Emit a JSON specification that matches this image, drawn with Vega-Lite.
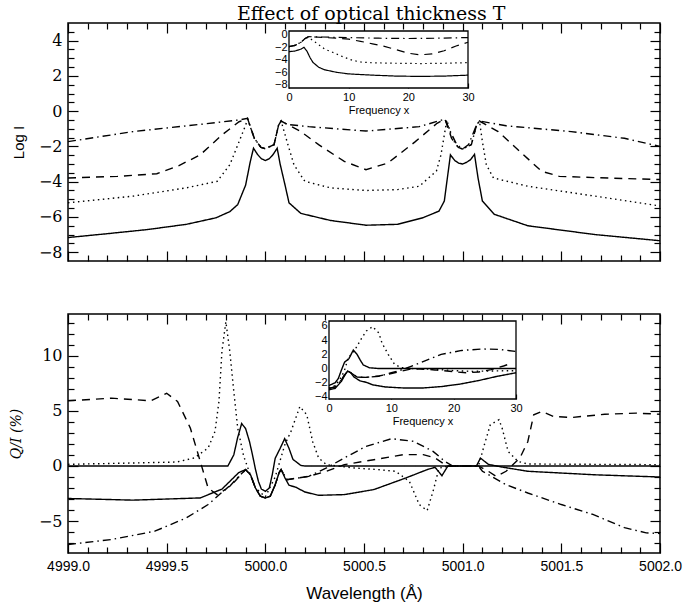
{
  "$schema": "https://vega.github.io/schema/vega-lite/v6.json",
  "padding": {"left": 8, "top": 4, "right": 4, "bottom": 4},
  "background": "white",
  "title": {"text": "Effect of optical thickness T", "font": "DejaVu Serif", "fontSize": 19, "fontWeight": "normal", "anchor": "middle", "offset": -2, "color": "black", "dx": 26},
  "config": {
    "view": {"stroke": "black", "strokeWidth": 1.5},
    "axis": {"grid": false, "domain": false, "tickColor": "black", "labelColor": "black", "titleColor": "black", "tickWidth": 1.2, "titleFontWeight": "normal", "labelOverlap": false},
    "line": {"clip": true}
  },
  "datasets": {
    "top": [
      {"s":"solid","w":4999.00,"v":-7.17},{"s":"solid","w":4999.20,"v":-6.95},{"s":"solid","w":4999.40,"v":-6.72},{"s":"solid","w":4999.60,"v":-6.42},{"s":"solid","w":4999.75,"v":-6.05},{"s":"solid","w":4999.82,"v":-5.70},{"s":"solid","w":4999.86,"v":-5.30},{"s":"solid","w":4999.90,"v":-4.20},{"s":"solid","w":4999.924,"v":-2.85},{"s":"solid","w":4999.94,"v":-2.10},{"s":"solid","w":4999.96,"v":-2.45},{"s":"solid","w":4999.98,"v":-2.70},{"s":"solid","w":5000.00,"v":-2.80},{"s":"solid","w":5000.02,"v":-2.70},{"s":"solid","w":5000.04,"v":-2.45},{"s":"solid","w":5000.06,"v":-2.10},{"s":"solid","w":5000.075,"v":-3.00},{"s":"solid","w":5000.10,"v":-4.20},{"s":"solid","w":5000.12,"v":-5.20},{"s":"solid","w":5000.18,"v":-5.80},{"s":"solid","w":5000.33,"v":-6.20},{"s":"solid","w":5000.51,"v":-6.47},{"s":"solid","w":5000.67,"v":-6.42},{"s":"solid","w":5000.80,"v":-6.04},{"s":"solid","w":5000.88,"v":-5.67},{"s":"solid","w":5000.907,"v":-5.10},{"s":"solid","w":5000.92,"v":-4.00},{"s":"solid","w":5000.938,"v":-2.48},{"s":"solid","w":5000.96,"v":-2.80},{"s":"solid","w":5000.98,"v":-2.95},{"s":"solid","w":5001.00,"v":-3.00},{"s":"solid","w":5001.02,"v":-2.90},{"s":"solid","w":5001.04,"v":-2.75},{"s":"solid","w":5001.06,"v":-2.45},{"s":"solid","w":5001.078,"v":-3.80},{"s":"solid","w":5001.10,"v":-5.10},{"s":"solid","w":5001.16,"v":-5.85},{"s":"solid","w":5001.33,"v":-6.50},{"s":"solid","w":5001.67,"v":-7.00},{"s":"solid","w":5002.00,"v":-7.35},
      {"s":"dotted","w":4999.00,"v":-5.20},{"s":"dotted","w":4999.33,"v":-4.82},{"s":"dotted","w":4999.60,"v":-4.35},{"s":"dotted","w":4999.756,"v":-3.98},{"s":"dotted","w":4999.82,"v":-3.04},{"s":"dotted","w":4999.867,"v":-1.73},{"s":"dotted","w":4999.90,"v":-0.80},{"s":"dotted","w":4999.91,"v":-0.45},{"s":"dotted","w":4999.944,"v":-1.54},{"s":"dotted","w":4999.978,"v":-2.06},{"s":"dotted","w":5000.00,"v":-2.12},{"s":"dotted","w":5000.044,"v":-1.90},{"s":"dotted","w":5000.067,"v":-0.80},{"s":"dotted","w":5000.08,"v":-0.56},{"s":"dotted","w":5000.11,"v":-1.73},{"s":"dotted","w":5000.145,"v":-3.04},{"s":"dotted","w":5000.20,"v":-3.98},{"s":"dotted","w":5000.33,"v":-4.35},{"s":"dotted","w":5000.51,"v":-4.50},{"s":"dotted","w":5000.67,"v":-4.45},{"s":"dotted","w":5000.78,"v":-4.26},{"s":"dotted","w":5000.867,"v":-3.40},{"s":"dotted","w":5000.89,"v":-2.48},{"s":"dotted","w":5000.907,"v":-1.35},{"s":"dotted","w":5000.92,"v":-0.50},{"s":"dotted","w":5000.945,"v":-1.54},{"s":"dotted","w":5000.978,"v":-2.06},{"s":"dotted","w":5001.00,"v":-2.15},{"s":"dotted","w":5001.044,"v":-1.90},{"s":"dotted","w":5001.07,"v":-0.80},{"s":"dotted","w":5001.085,"v":-0.56},{"s":"dotted","w":5001.10,"v":-1.73},{"s":"dotted","w":5001.12,"v":-3.04},{"s":"dotted","w":5001.156,"v":-3.79},{"s":"dotted","w":5001.33,"v":-4.26},{"s":"dotted","w":5001.67,"v":-4.82},{"s":"dotted","w":5002.00,"v":-5.38},
      {"s":"dashed","w":4999.00,"v":-3.79},{"s":"dashed","w":4999.25,"v":-3.70},{"s":"dashed","w":4999.45,"v":-3.55},{"s":"dashed","w":4999.56,"v":-3.10},{"s":"dashed","w":4999.67,"v":-2.48},{"s":"dashed","w":4999.78,"v":-1.35},{"s":"dashed","w":4999.867,"v":-0.60},{"s":"dashed","w":4999.91,"v":-0.42},{"s":"dashed","w":4999.944,"v":-1.54},{"s":"dashed","w":4999.978,"v":-2.06},{"s":"dashed","w":5000.00,"v":-2.12},{"s":"dashed","w":5000.044,"v":-1.90},{"s":"dashed","w":5000.067,"v":-0.80},{"s":"dashed","w":5000.08,"v":-0.56},{"s":"dashed","w":5000.18,"v":-1.16},{"s":"dashed","w":5000.27,"v":-1.90},{"s":"dashed","w":5000.40,"v":-2.85},{"s":"dashed","w":5000.51,"v":-3.32},{"s":"dashed","w":5000.62,"v":-2.95},{"s":"dashed","w":5000.76,"v":-1.73},{"s":"dashed","w":5000.87,"v":-0.69},{"s":"dashed","w":5000.91,"v":-0.45},{"s":"dashed","w":5000.944,"v":-1.54},{"s":"dashed","w":5000.978,"v":-2.06},{"s":"dashed","w":5001.00,"v":-2.15},{"s":"dashed","w":5001.044,"v":-1.90},{"s":"dashed","w":5001.07,"v":-0.80},{"s":"dashed","w":5001.085,"v":-0.56},{"s":"dashed","w":5001.18,"v":-1.16},{"s":"dashed","w":5001.29,"v":-2.29},{"s":"dashed","w":5001.40,"v":-3.41},{"s":"dashed","w":5001.49,"v":-3.70},{"s":"dashed","w":5001.75,"v":-3.80},{"s":"dashed","w":5002.00,"v":-3.88},
      {"s":"dashdot","w":4999.00,"v":-1.73},{"s":"dashdot","w":4999.33,"v":-1.16},{"s":"dashdot","w":4999.67,"v":-0.75},{"s":"dashdot","w":4999.867,"v":-0.50},{"s":"dashdot","w":4999.91,"v":-0.41},{"s":"dashdot","w":4999.944,"v":-1.54},{"s":"dashdot","w":4999.978,"v":-2.06},{"s":"dashdot","w":5000.00,"v":-2.14},{"s":"dashdot","w":5000.044,"v":-1.90},{"s":"dashdot","w":5000.067,"v":-0.80},{"s":"dashdot","w":5000.08,"v":-0.56},{"s":"dashdot","w":5000.11,"v":-0.75},{"s":"dashdot","w":5000.22,"v":-0.88},{"s":"dashdot","w":5000.51,"v":-1.13},{"s":"dashdot","w":5000.78,"v":-0.88},{"s":"dashdot","w":5000.91,"v":-0.45},{"s":"dashdot","w":5000.938,"v":-1.16},{"s":"dashdot","w":5000.97,"v":-1.90},{"s":"dashdot","w":5001.00,"v":-2.14},{"s":"dashdot","w":5001.03,"v":-1.90},{"s":"dashdot","w":5001.07,"v":-0.80},{"s":"dashdot","w":5001.085,"v":-0.56},{"s":"dashdot","w":5001.22,"v":-0.83},{"s":"dashdot","w":5001.55,"v":-1.16},{"s":"dashdot","w":5001.82,"v":-1.54},{"s":"dashdot","w":5002.00,"v":-2.00}
    ],
    "topInset": [
      {"s":"solid","f":0,"v":-2.7},{"s":"solid","f":1,"v":-2.6},{"s":"solid","f":2,"v":-2.3},{"s":"solid","f":2.5,"v":-2.0},{"s":"solid","f":3,"v":-2.6},{"s":"solid","f":3.5,"v":-3.6},{"s":"solid","f":4,"v":-4.4},{"s":"solid","f":5,"v":-5.2},{"s":"solid","f":6,"v":-5.6},{"s":"solid","f":8,"v":-6.0},{"s":"solid","f":10,"v":-6.25},{"s":"solid","f":14,"v":-6.45},{"s":"solid","f":18,"v":-6.6},{"s":"solid","f":22,"v":-6.65},{"s":"solid","f":26,"v":-6.6},{"s":"solid","f":30,"v":-6.45},
      {"s":"dotted","f":0,"v":-1.9},{"s":"dotted","f":1,"v":-1.7},{"s":"dotted","f":2,"v":-1.2},{"s":"dotted","f":2.7,"v":-0.6},{"s":"dotted","f":3.2,"v":-0.4},{"s":"dotted","f":4,"v":-0.9},{"s":"dotted","f":5,"v":-1.6},{"s":"dotted","f":6,"v":-2.3},{"s":"dotted","f":7.3,"v":-2.8},{"s":"dotted","f":9,"v":-3.5},{"s":"dotted","f":10.7,"v":-4.1},{"s":"dotted","f":12,"v":-4.35},{"s":"dotted","f":14,"v":-4.48},{"s":"dotted","f":18,"v":-4.55},{"s":"dotted","f":22,"v":-4.6},{"s":"dotted","f":26,"v":-4.55},{"s":"dotted","f":30,"v":-4.45},
      {"s":"dashed","f":0,"v":-1.9},{"s":"dashed","f":1,"v":-1.7},{"s":"dashed","f":2,"v":-1.2},{"s":"dashed","f":2.7,"v":-0.6},{"s":"dashed","f":3.3,"v":-0.3},{"s":"dashed","f":4,"v":-0.35},{"s":"dashed","f":6,"v":-0.45},{"s":"dashed","f":8,"v":-0.55},{"s":"dashed","f":10,"v":-0.7},{"s":"dashed","f":12,"v":-1.05},{"s":"dashed","f":14,"v":-1.45},{"s":"dashed","f":16,"v":-1.85},{"s":"dashed","f":18,"v":-2.4},{"s":"dashed","f":20,"v":-2.95},{"s":"dashed","f":22,"v":-3.2},{"s":"dashed","f":24,"v":-3.05},{"s":"dashed","f":26,"v":-2.55},{"s":"dashed","f":28,"v":-1.8},{"s":"dashed","f":30,"v":-1.2},
      {"s":"dashdot","f":0,"v":-1.9},{"s":"dashdot","f":1,"v":-1.7},{"s":"dashdot","f":2,"v":-1.2},{"s":"dashdot","f":2.7,"v":-0.6},{"s":"dashdot","f":3.3,"v":-0.3},{"s":"dashdot","f":5,"v":-0.35},{"s":"dashdot","f":10,"v":-0.45},{"s":"dashdot","f":15,"v":-0.55},{"s":"dashdot","f":20,"v":-0.6},{"s":"dashdot","f":25,"v":-0.55},{"s":"dashdot","f":30,"v":-0.45}
    ],
    "bot": [
      {"s":"A","w":4999.00,"v":0},{"s":"A","w":4999.81,"v":0},{"s":"A","w":4999.84,"v":1.0},{"s":"A","w":4999.86,"v":2.6},{"s":"A","w":4999.88,"v":3.85},{"s":"A","w":4999.90,"v":3.4},{"s":"A","w":4999.92,"v":2.2},{"s":"A","w":4999.935,"v":1.0},{"s":"A","w":4999.95,"v":-0.3},{"s":"A","w":4999.965,"v":-1.4},{"s":"A","w":4999.98,"v":-2.1},{"s":"A","w":5000.00,"v":-2.3},{"s":"A","w":5000.02,"v":-2.0},{"s":"A","w":5000.035,"v":-0.8},{"s":"A","w":5000.05,"v":0.7},{"s":"A","w":5000.075,"v":1.6},{"s":"A","w":5000.098,"v":2.48},{"s":"A","w":5000.12,"v":1.6},{"s":"A","w":5000.14,"v":0.6},{"s":"A","w":5000.18,"v":0.05},{"s":"A","w":5000.20,"v":0},{"s":"A","w":5002.00,"v":0},
      {"s":"B","w":4999.00,"v":-2.95},{"s":"B","w":4999.33,"v":-3.10},{"s":"B","w":4999.67,"v":-2.90},{"s":"B","w":4999.78,"v":-2.10},{"s":"B","w":4999.82,"v":-1.40},{"s":"B","w":4999.865,"v":-0.60},{"s":"B","w":4999.90,"v":-0.33},{"s":"B","w":4999.925,"v":-0.80},{"s":"B","w":4999.95,"v":-2.00},{"s":"B","w":4999.975,"v":-2.75},{"s":"B","w":5000.00,"v":-2.90},{"s":"B","w":5000.025,"v":-2.75},{"s":"B","w":5000.05,"v":-1.70},{"s":"B","w":5000.07,"v":-0.60},{"s":"B","w":5000.08,"v":-0.33},{"s":"B","w":5000.10,"v":-1.10},{"s":"B","w":5000.12,"v":-1.75},{"s":"B","w":5000.155,"v":-1.93},{"s":"B","w":5000.20,"v":-2.36},{"s":"B","w":5000.27,"v":-2.66},{"s":"B","w":5000.40,"v":-2.60},{"s":"B","w":5000.55,"v":-2.14},{"s":"B","w":5000.71,"v":-1.10},{"s":"B","w":5000.82,"v":-0.33},{"s":"B","w":5000.86,"v":-0.12},{"s":"B","w":5000.895,"v":-0.88},{"s":"B","w":5000.925,"v":0},{"s":"B","w":5001.07,"v":0},{"s":"B","w":5001.09,"v":0.72},{"s":"B","w":5001.13,"v":0.15},{"s":"B","w":5001.20,"v":-0.10},{"s":"B","w":5001.33,"v":-0.48},{"s":"B","w":5001.67,"v":-0.80},{"s":"B","w":5002.00,"v":-1.00},
      {"s":"dotted","w":4999.00,"v":0.15},{"s":"dotted","w":4999.40,"v":0.30},{"s":"dotted","w":4999.55,"v":0.36},{"s":"dotted","w":4999.64,"v":0.73},{"s":"dotted","w":4999.71,"v":1.63},{"s":"dotted","w":4999.745,"v":3.14},{"s":"dotted","w":4999.765,"v":5.86},{"s":"dotted","w":4999.78,"v":10.4},{"s":"dotted","w":4999.80,"v":13.1},{"s":"dotted","w":4999.82,"v":10.4},{"s":"dotted","w":4999.84,"v":6.8},{"s":"dotted","w":4999.86,"v":3.44},{"s":"dotted","w":4999.89,"v":0.9},{"s":"dotted","w":4999.92,"v":-0.6},{"s":"dotted","w":4999.95,"v":-2.0},{"s":"dotted","w":5000.00,"v":-2.8},{"s":"dotted","w":5000.05,"v":-1.0},{"s":"dotted","w":5000.08,"v":0.8},{"s":"dotted","w":5000.10,"v":2.0},{"s":"dotted","w":5000.13,"v":3.14},{"s":"dotted","w":5000.175,"v":5.4},{"s":"dotted","w":5000.21,"v":4.65},{"s":"dotted","w":5000.24,"v":2.2},{"s":"dotted","w":5000.27,"v":0.73},{"s":"dotted","w":5000.31,"v":0.12},{"s":"dotted","w":5000.45,"v":-0.18},{"s":"dotted","w":5000.57,"v":-0.33},{"s":"dotted","w":5000.66,"v":-0.48},{"s":"dotted","w":5000.73,"v":-1.4},{"s":"dotted","w":5000.78,"v":-3.5},{"s":"dotted","w":5000.82,"v":-4.05},{"s":"dotted","w":5000.85,"v":-2.3},{"s":"dotted","w":5000.88,"v":-0.2},{"s":"dotted","w":5000.93,"v":0},{"s":"dotted","w":5001.08,"v":0},{"s":"dotted","w":5001.11,"v":1.93},{"s":"dotted","w":5001.14,"v":3.75},{"s":"dotted","w":5001.184,"v":4.2},{"s":"dotted","w":5001.20,"v":3.44},{"s":"dotted","w":5001.23,"v":1.33},{"s":"dotted","w":5001.28,"v":0.42},{"s":"dotted","w":5001.33,"v":0.18},{"s":"dotted","w":5002.00,"v":0.12},
      {"s":"dashed","w":4999.00,"v":5.92},{"s":"dashed","w":4999.22,"v":6.16},{"s":"dashed","w":4999.42,"v":5.92},{"s":"dashed","w":4999.50,"v":6.60},{"s":"dashed","w":4999.555,"v":5.86},{"s":"dashed","w":4999.62,"v":3.44},{"s":"dashed","w":4999.665,"v":0.73},{"s":"dashed","w":4999.71,"v":-2.00},{"s":"dashed","w":4999.755,"v":-2.60},{"s":"dashed","w":4999.80,"v":-2.10},{"s":"dashed","w":4999.845,"v":-1.40},{"s":"dashed","w":4999.90,"v":-0.33},{"s":"dashed","w":4999.925,"v":-0.80},{"s":"dashed","w":4999.95,"v":-2.00},{"s":"dashed","w":4999.975,"v":-2.75},{"s":"dashed","w":5000.00,"v":-2.90},{"s":"dashed","w":5000.025,"v":-2.75},{"s":"dashed","w":5000.05,"v":-1.70},{"s":"dashed","w":5000.07,"v":-0.60},{"s":"dashed","w":5000.08,"v":-0.33},{"s":"dashed","w":5000.11,"v":-1.24},{"s":"dashed","w":5000.22,"v":-0.94},{"s":"dashed","w":5000.31,"v":-0.48},{"s":"dashed","w":5000.40,"v":0.12},{"s":"dashed","w":5000.55,"v":0.57},{"s":"dashed","w":5000.70,"v":1.03},{"s":"dashed","w":5000.80,"v":1.03},{"s":"dashed","w":5000.86,"v":0.73},{"s":"dashed","w":5000.91,"v":0.12},{"s":"dashed","w":5000.93,"v":0},{"s":"dashed","w":5001.08,"v":0},{"s":"dashed","w":5001.13,"v":-0.48},{"s":"dashed","w":5001.17,"v":-0.94},{"s":"dashed","w":5001.22,"v":-0.48},{"s":"dashed","w":5001.29,"v":0.73},{"s":"dashed","w":5001.33,"v":2.20},{"s":"dashed","w":5001.36,"v":4.65},{"s":"dashed","w":5001.40,"v":4.95},{"s":"dashed","w":5001.46,"v":4.50},{"s":"dashed","w":5001.55,"v":4.40},{"s":"dashed","w":5001.72,"v":4.70},{"s":"dashed","w":5001.88,"v":4.80},{"s":"dashed","w":5002.00,"v":4.70},
      {"s":"dashdot","w":4999.00,"v":-7.13},{"s":"dashdot","w":4999.22,"v":-6.68},{"s":"dashdot","w":4999.44,"v":-5.92},{"s":"dashdot","w":4999.60,"v":-4.71},{"s":"dashdot","w":4999.71,"v":-3.50},{"s":"dashdot","w":4999.776,"v":-2.45},{"s":"dashdot","w":4999.82,"v":-1.84},{"s":"dashdot","w":4999.865,"v":-0.94},{"s":"dashdot","w":4999.90,"v":-0.33},{"s":"dashdot","w":4999.925,"v":-0.80},{"s":"dashdot","w":4999.95,"v":-2.00},{"s":"dashdot","w":4999.975,"v":-2.75},{"s":"dashdot","w":5000.00,"v":-2.90},{"s":"dashdot","w":5000.025,"v":-2.75},{"s":"dashdot","w":5000.05,"v":-1.70},{"s":"dashdot","w":5000.07,"v":-0.60},{"s":"dashdot","w":5000.08,"v":-0.33},{"s":"dashdot","w":5000.11,"v":-1.24},{"s":"dashdot","w":5000.22,"v":-0.94},{"s":"dashdot","w":5000.31,"v":-0.18},{"s":"dashdot","w":5000.40,"v":0.73},{"s":"dashdot","w":5000.51,"v":1.78},{"s":"dashdot","w":5000.64,"v":2.48},{"s":"dashdot","w":5000.75,"v":2.24},{"s":"dashdot","w":5000.85,"v":1.33},{"s":"dashdot","w":5000.91,"v":0.42},{"s":"dashdot","w":5000.95,"v":0},{"s":"dashdot","w":5001.08,"v":0},{"s":"dashdot","w":5001.10,"v":-0.48},{"s":"dashdot","w":5001.22,"v":-1.70},{"s":"dashdot","w":5001.33,"v":-2.45},{"s":"dashdot","w":5001.50,"v":-3.50},{"s":"dashdot","w":5001.66,"v":-4.40},{"s":"dashdot","w":5001.82,"v":-5.60},{"s":"dashdot","w":5001.93,"v":-6.07},{"s":"dashdot","w":5002.00,"v":-6.13}
    ],
    "botInset": [
      {"s":"A","f":0,"v":-2.4},{"s":"A","f":1,"v":-2.0},{"s":"A","f":1.5,"v":-1.4},{"s":"A","f":2,"v":-0.2},{"s":"A","f":2.5,"v":0.9},{"s":"A","f":3.2,"v":1.4},{"s":"A","f":3.9,"v":2.6},{"s":"A","f":4.5,"v":2.0},{"s":"A","f":5,"v":1.2},{"s":"A","f":5.5,"v":0.5},{"s":"A","f":6.5,"v":0.1},{"s":"A","f":8,"v":0},{"s":"A","f":30,"v":0},
      {"s":"B","f":0,"v":-3.0},{"s":"B","f":1,"v":-2.8},{"s":"B","f":2,"v":-1.8},{"s":"B","f":2.5,"v":-1.0},{"s":"B","f":3,"v":-0.35},{"s":"B","f":3.5,"v":-0.6},{"s":"B","f":4,"v":-1.2},{"s":"B","f":5,"v":-1.75},{"s":"B","f":6,"v":-1.95},{"s":"B","f":7,"v":-2.3},{"s":"B","f":9,"v":-2.6},{"s":"B","f":12,"v":-2.75},{"s":"B","f":15,"v":-2.75},{"s":"B","f":18,"v":-2.55},{"s":"B","f":21,"v":-2.2},{"s":"B","f":24,"v":-1.7},{"s":"B","f":27,"v":-1.1},{"s":"B","f":30,"v":-0.6},
      {"s":"dotted","f":0,"v":-2.8},{"s":"dotted","f":1,"v":-2.4},{"s":"dotted","f":2,"v":-1.2},{"s":"dotted","f":2.5,"v":-0.2},{"s":"dotted","f":3.1,"v":1.5},{"s":"dotted","f":4.2,"v":2.7},{"s":"dotted","f":5.25,"v":4.3},{"s":"dotted","f":6,"v":5.3},{"s":"dotted","f":7,"v":5.9},{"s":"dotted","f":8,"v":5.0},{"s":"dotted","f":8.5,"v":3.6},{"s":"dotted","f":9.5,"v":2.0},{"s":"dotted","f":10.5,"v":0.6},{"s":"dotted","f":11.5,"v":0.15},{"s":"dotted","f":13,"v":0.0},{"s":"dotted","f":17,"v":-0.1},{"s":"dotted","f":20,"v":-0.3},{"s":"dotted","f":23,"v":-0.4},{"s":"dotted","f":26,"v":-0.35},{"s":"dotted","f":30,"v":-0.3},
      {"s":"dashed","f":0,"v":-2.8},{"s":"dashed","f":1,"v":-2.6},{"s":"dashed","f":2,"v":-1.6},{"s":"dashed","f":2.5,"v":-0.9},{"s":"dashed","f":3,"v":-0.35},{"s":"dashed","f":3.5,"v":-0.6},{"s":"dashed","f":4.5,"v":-1.2},{"s":"dashed","f":6,"v":-1.25},{"s":"dashed","f":8,"v":-1.05},{"s":"dashed","f":10,"v":-0.7},{"s":"dashed","f":12,"v":-0.3},{"s":"dashed","f":13.5,"v":0},{"s":"dashed","f":17,"v":-0.2},{"s":"dashed","f":20,"v":-0.45},{"s":"dashed","f":22,"v":-0.6},{"s":"dashed","f":24,"v":-0.5},{"s":"dashed","f":26,"v":-0.15},{"s":"dashed","f":28,"v":0.35},{"s":"dashed","f":29.5,"v":0.8},
      {"s":"dashdot","f":0,"v":-2.8},{"s":"dashdot","f":1,"v":-2.6},{"s":"dashdot","f":2,"v":-1.6},{"s":"dashdot","f":2.5,"v":-0.9},{"s":"dashdot","f":3,"v":-0.35},{"s":"dashdot","f":3.5,"v":-0.6},{"s":"dashdot","f":4.5,"v":-1.2},{"s":"dashdot","f":6,"v":-1.25},{"s":"dashdot","f":8,"v":-1.1},{"s":"dashdot","f":10,"v":-0.6},{"s":"dashdot","f":12,"v":-0.1},{"s":"dashdot","f":14.6,"v":0.8},{"s":"dashdot","f":18,"v":2.0},{"s":"dashdot","f":21.3,"v":2.55},{"s":"dashdot","f":24.6,"v":2.75},{"s":"dashdot","f":27.3,"v":2.7},{"s":"dashdot","f":30,"v":2.4}
    ],
    "xedge": [{"w":4999,"v":0},{"w":5002,"v":0}]
  },
  "spacing": 49,
  "vconcat": [
    {
      "width": 592, "height": 238,
      "resolve": {"scale": {"x": "independent", "y": "independent"}},
      "layer": [
        {
          "data": {"name": "top"},
          "mark": {"type": "line", "clip": true},
          "encoding": {
            "x": {"field": "w", "type": "quantitative", "scale": {"domain": [4999, 5002], "nice": false, "zero": false},
              "axis": {"orient": "bottom", "title": null, "labels": false,
                "values": [4999,4999.1,4999.2,4999.3,4999.4,4999.5,4999.6,4999.7,4999.8,4999.9,5000,5000.1,5000.2,5000.3,5000.4,5000.5,5000.6,5000.7,5000.8,5000.9,5001,5001.1,5001.2,5001.3,5001.4,5001.5,5001.6,5001.7,5001.8,5001.9,5002],
                "tickSize": {"condition": {"test": "abs(datum.value*2 - round(datum.value*2)) < 0.001", "value": -10}, "value": -6}}},
            "y": {"field": "v", "type": "quantitative", "scale": {"domain": [-8.5, 5], "nice": false, "zero": false},
              "axis": {"orient": "left", "title": "Log I", "titleFont": "Liberation Sans", "titleFontSize": 15, "titleX": -50, "titleBaseline": "middle", "titleColor": "black",
                "values": [-8,-7.5,-7,-6.5,-6,-5.5,-5,-4.5,-4,-3.5,-3,-2.5,-2,-1.5,-1,-0.5,0,0.5,1,1.5,2,2.5,3,3.5,4,4.5],
                "labelExpr": "abs(datum.value/2 - round(datum.value/2)) < 0.001 ? format(datum.value, 'd') : ''",
                "labelFont": "DejaVu Serif", "labelFontSize": 16, "labelPadding": 16, "labelOverlap": false,
                "tickSize": {"condition": {"test": "abs(datum.value/2 - round(datum.value/2)) < 0.001", "value": -10}, "value": -6}}},
            "strokeDash": {"field": "s", "type": "nominal", "legend": null, "scale": {"domain": ["solid","dotted","dashed","dashdot","A","B"], "range": [[1,0],[1.5,3.5],[8,6],[8,4,1.5,4],[1,0],[1,0]]}},
            "strokeWidth": {"field": "s", "type": "nominal", "legend": null, "scale": {"domain": ["solid","dotted","dashed","dashdot","A","B"], "range": [1.4,1.4,1.4,1.6,2.2,1.1]}},
            "color": {"value": "black"}
          }
        },
        {
          "data": {"name": "xedge"},
          "mark": {"type": "line", "opacity": 0},
          "encoding": {
            "x": {"field": "w", "type": "quantitative", "scale": {"domain": [4999, 5002], "nice": false, "zero": false},
              "axis": {"orient": "top", "title": null, "labels": false,
                "values": [4999,4999.1,4999.2,4999.3,4999.4,4999.5,4999.6,4999.7,4999.8,4999.9,5000,5000.1,5000.2,5000.3,5000.4,5000.5,5000.6,5000.7,5000.8,5000.9,5001,5001.1,5001.2,5001.3,5001.4,5001.5,5001.6,5001.7,5001.8,5001.9,5002],
                "tickSize": {"condition": {"test": "abs(datum.value*2 - round(datum.value*2)) < 0.001", "value": -10}, "value": -6}}},
            "y": {"field": "v", "type": "quantitative", "scale": {"domain": [-8.5, 5], "nice": false, "zero": false},
              "axis": {"orient": "right", "title": null, "labels": false,
                "values": [-8,-7.5,-7,-6.5,-6,-5.5,-5,-4.5,-4,-3.5,-3,-2.5,-2,-1.5,-1,-0.5,0,0.5,1,1.5,2,2.5,3,3.5,4,4.5],
                "tickSize": {"condition": {"test": "abs(datum.value/2 - round(datum.value/2)) < 0.001", "value": -10}, "value": -6}}}
          }
        },
        {
          "layer": [
            {
              "data": {"values": [{"x1": 0, "x2": 30, "y1": -8.5, "y2": 0.6}]},
              "mark": {"type": "rect", "fill": "white", "stroke": "black", "strokeWidth": 1.3},
              "encoding": {
                "x": {"field": "x1", "type": "quantitative", "scale": {"domain": [0, 30], "range": [221, 400], "nice": false, "zero": false},
                  "axis": {"orient": "bottom", "offset": -173, "title": "Frequency x", "titleFont": "Liberation Sans", "titleFontSize": 11, "titlePadding": 2,
                    "values": [0,10,20,30], "format": "d",
                    "labelFont": "Liberation Sans", "labelFontSize": 11, "labelPadding": 8, "labelFlush": false, "labelOverlap": false, "labelBound": false,
                    "tickSize": -5}},
                "x2": {"field": "x2"},
                "y": {"field": "y1", "type": "quantitative", "scale": {"domain": [-8.5, 0.6], "range": [65, 8], "nice": false, "zero": false},
                  "axis": {"orient": "left", "offset": -221, "title": null,
                    "values": [-8,-6,-4,-2,0], "format": "d",
                    "labelFont": "Liberation Sans", "labelFontSize": 11, "labelPadding": 7, "labelFlush": false, "labelOverlap": false,
                    "tickSize": -5}},
                "y2": {"field": "y2"}
              }
            },
            {
              "data": {"name": "topInset"},
              "mark": {"type": "line", "strokeWidth": 1.2, "color": "black"},
              "encoding": {
                "x": {"field": "f", "type": "quantitative", "scale": {"domain": [0, 30], "range": [221, 400], "nice": false, "zero": false}},
                "y": {"field": "v", "type": "quantitative", "scale": {"domain": [-8.5, 0.6], "range": [65, 8], "nice": false, "zero": false}},
                "strokeDash": {"field": "s", "type": "nominal", "legend": null, "scale": {"domain": ["solid","dotted","dashed","dashdot","A","B"], "range": [[1,0],[1.5,3.5],[8,6],[8,4,1.5,4],[1,0],[1,0]]}}
              }
            }
          ]
        }
      ]
    },
    {
      "width": 592, "height": 239,
      "resolve": {"scale": {"x": "independent", "y": "independent"}},
      "layer": [
        {
          "data": {"name": "bot"},
          "mark": {"type": "line", "clip": true},
          "encoding": {
            "x": {"field": "w", "type": "quantitative", "scale": {"domain": [4999, 5002], "nice": false, "zero": false},
              "axis": {"orient": "bottom", "title": "Wavelength (Å)", "titleFont": "Liberation Sans", "titleFontSize": 17, "titlePadding": 8,
                "values": [4999,4999.1,4999.2,4999.3,4999.4,4999.5,4999.6,4999.7,4999.8,4999.9,5000,5000.1,5000.2,5000.3,5000.4,5000.5,5000.6,5000.7,5000.8,5000.9,5001,5001.1,5001.2,5001.3,5001.4,5001.5,5001.6,5001.7,5001.8,5001.9,5002],
                "labelExpr": "abs(datum.value*2 - round(datum.value*2)) < 0.001 ? format(datum.value, '.1f') : ''",
                "labelFont": "Liberation Sans", "labelFontSize": 14, "labelPadding": 16, "labelFlush": false, "labelOverlap": false,
                "tickSize": {"condition": {"test": "abs(datum.value*2 - round(datum.value*2)) < 0.001", "value": -10}, "value": -6}}},
            "y": {"field": "v", "type": "quantitative", "scale": {"domain": [-7.9, 13.8], "nice": false, "zero": false},
              "axis": {"orient": "left", "title": "Q/I (%)", "titleFont": "DejaVu Serif", "titleFontStyle": "italic", "titleFontSize": 14, "titleX": -52, "titleBaseline": "middle", "titleColor": "black",
                "values": [-7,-6,-5,-4,-3,-2,-1,0,1,2,3,4,5,6,7,8,9,10,11,12,13],
                "labelExpr": "datum.value % 5 === 0 ? format(datum.value, 'd') : ''",
                "labelFont": "DejaVu Serif", "labelFontSize": 16, "labelPadding": 16, "labelOverlap": false,
                "tickSize": {"condition": {"test": "datum.value % 5 === 0", "value": -10}, "value": -6}}},
            "strokeDash": {"field": "s", "type": "nominal", "legend": null, "scale": {"domain": ["solid","dotted","dashed","dashdot","A","B"], "range": [[1,0],[1.5,3.5],[8,6],[8,4,1.5,4],[1,0],[1,0]]}},
            "strokeWidth": {"field": "s", "type": "nominal", "legend": null, "scale": {"domain": ["solid","dotted","dashed","dashdot","A","B"], "range": [1.4,1.4,1.4,1.6,2.2,1.1]}},
            "color": {"value": "black"}
          }
        },
        {
          "data": {"name": "xedge"},
          "mark": {"type": "line", "opacity": 0},
          "encoding": {
            "x": {"field": "w", "type": "quantitative", "scale": {"domain": [4999, 5002], "nice": false, "zero": false},
              "axis": {"orient": "top", "title": null, "labels": false,
                "values": [4999,4999.1,4999.2,4999.3,4999.4,4999.5,4999.6,4999.7,4999.8,4999.9,5000,5000.1,5000.2,5000.3,5000.4,5000.5,5000.6,5000.7,5000.8,5000.9,5001,5001.1,5001.2,5001.3,5001.4,5001.5,5001.6,5001.7,5001.8,5001.9,5002],
                "tickSize": {"condition": {"test": "abs(datum.value*2 - round(datum.value*2)) < 0.001", "value": -10}, "value": -6}}},
            "y": {"field": "v", "type": "quantitative", "scale": {"domain": [-7.9, 13.8], "nice": false, "zero": false},
              "axis": {"orient": "right", "title": null, "labels": false,
                "values": [-7,-6,-5,-4,-3,-2,-1,0,1,2,3,4,5,6,7,8,9,10,11,12,13],
                "tickSize": {"condition": {"test": "datum.value % 5 === 0", "value": -10}, "value": -6}}}
          }
        },
        {
          "layer": [
            {
              "data": {"values": [{"x1": 0, "x2": 30, "y1": -4.3, "y2": 6.7}]},
              "mark": {"type": "rect", "fill": "white", "stroke": "black", "strokeWidth": 1.3},
              "encoding": {
                "x": {"field": "x1", "type": "quantitative", "scale": {"domain": [0, 30], "range": [261, 448], "nice": false, "zero": false},
                  "axis": {"orient": "bottom", "offset": -154, "title": "Frequency x", "titleFont": "Liberation Sans", "titleFontSize": 11, "titlePadding": 2,
                    "values": [0,10,20,30], "format": "d",
                    "labelFont": "Liberation Sans", "labelFontSize": 11, "labelPadding": 8, "labelFlush": false, "labelOverlap": false, "labelBound": false,
                    "tickSize": -5}},
                "x2": {"field": "x2"},
                "y": {"field": "y1", "type": "quantitative", "scale": {"domain": [-4.3, 6.7], "range": [85, 7], "nice": false, "zero": false},
                  "axis": {"orient": "left", "offset": -261, "title": null,
                    "values": [-4,-2,0,2,4,6], "format": "d",
                    "labelFont": "Liberation Sans", "labelFontSize": 11, "labelPadding": 7, "labelFlush": false, "labelOverlap": false,
                    "tickSize": -5}},
                "y2": {"field": "y2"}
              }
            },
            {
              "data": {"name": "botInset"},
              "mark": {"type": "line", "color": "black"},
              "encoding": {
                "x": {"field": "f", "type": "quantitative", "scale": {"domain": [0, 30], "range": [261, 448], "nice": false, "zero": false}},
                "y": {"field": "v", "type": "quantitative", "scale": {"domain": [-4.3, 6.7], "range": [85, 7], "nice": false, "zero": false}},
                "strokeDash": {"field": "s", "type": "nominal", "legend": null, "scale": {"domain": ["solid","dotted","dashed","dashdot","A","B"], "range": [[1,0],[1.5,3.5],[8,6],[8,4,1.5,4],[1,0],[1,0]]}},
                "strokeWidth": {"field": "s", "type": "nominal", "legend": null, "scale": {"domain": ["solid","dotted","dashed","dashdot","A","B"], "range": [1.4,1.4,1.4,1.6,2.2,1.1]}}
              }
            }
          ]
        }
      ]
    }
  ]
}
